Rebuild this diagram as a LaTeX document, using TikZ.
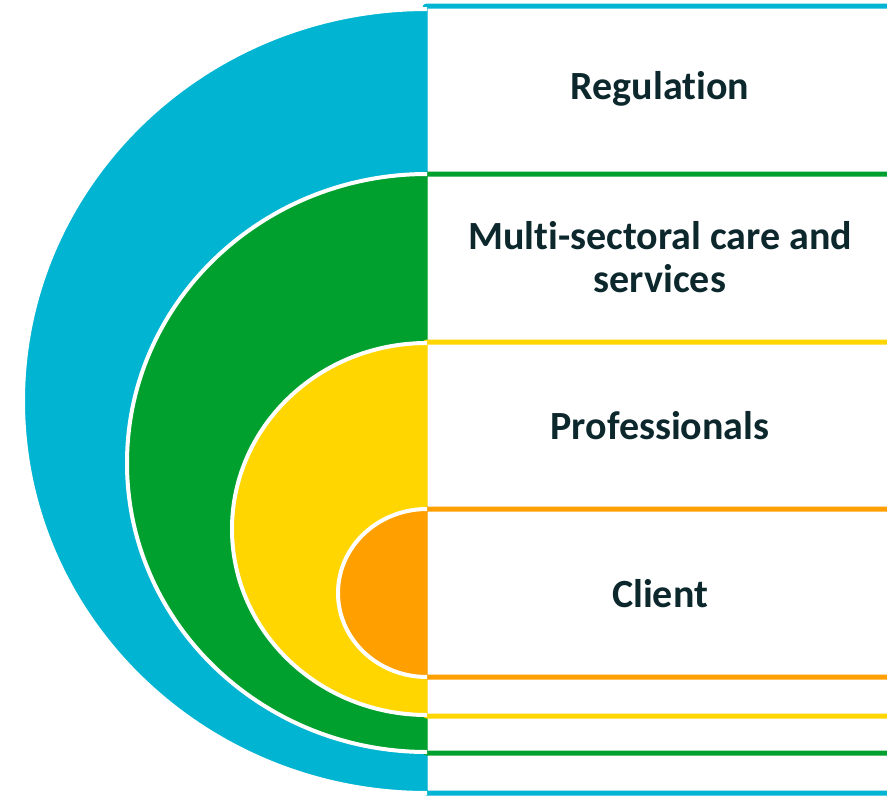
\documentclass[tikz,border=0pt]{standalone}
\usepackage{fontspec}
\setmainfont{Carlito}[Ligatures={NoCommon}]
\definecolor{cblue}{RGB}{0,180,210}
\definecolor{cgreen}{RGB}{0,160,46}
\definecolor{cyellow}{RGB}{255,214,0}
\definecolor{corange}{RGB}{255,160,0}
\definecolor{ctext}{RGB}{12,40,45}
\tikzset{
  band/.style={fill=white, draw=#1, line width=5pt, rounded corners=2pt},
  lbl/.style={text=ctext, font=\fontsize{40}{43}\selectfont\bfseries, align=center}
}
\newcommand{\halfell}[4]{% color, cy, rx, ry
  \begin{scope}
    \clip (0,0) rectangle (427,796);
    \fill[#1] (427,#2) ellipse [x radius=#3, y radius=#4];
    \draw[white, line width=4pt] (427,#2) ellipse [x radius=#3, y radius=#4];
  \end{scope}}
\begin{document}
\begin{tikzpicture}[x=1pt,y=-1pt]
\useasboundingbox (0,0) rectangle (887,796);
\clip (0,0) rectangle (887,796);
% blue level
\draw[band=cblue] (425,6) rectangle (897,793);
\halfell{cblue}{401}{404}{392}
% green level
\draw[band=cgreen] (425,174) rectangle (897,753);
\halfell{cgreen}{463}{300}{289}
% yellow level
\draw[band=cyellow] (425,342) rectangle (897,716);
\halfell{cyellow}{529}{195}{186}
% orange level
\draw[band=corange] (425,509) rectangle (897,677);
\halfell{corange}{593}{89}{84}
% labels
\node[lbl] (reg) at (660,89) {Regulation};
\node[lbl] (multi) at (660,257) {Multi-sectoral care and\\services};
\node[lbl] (prof) at (660,426) {Professionals};
\node[lbl] (client) at (660,594) {Client};
\end{tikzpicture}
\end{document}
